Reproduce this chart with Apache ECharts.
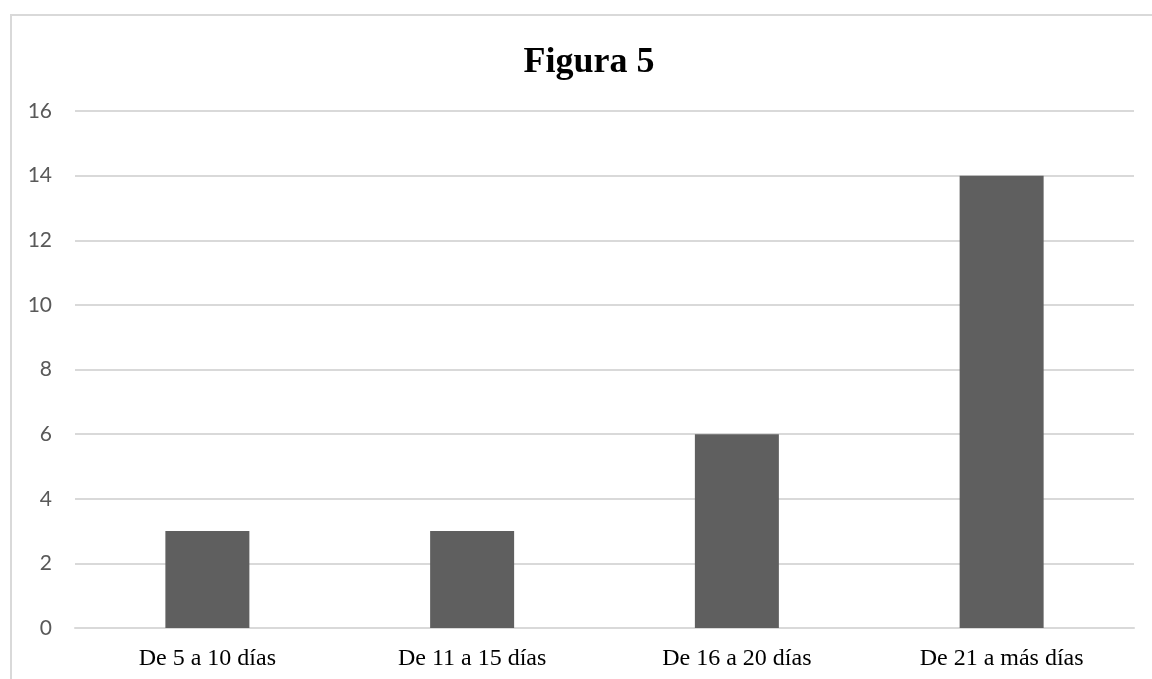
<!DOCTYPE html>
<html><head><meta charset="utf-8">
<script src="https://cdn.jsdelivr.net/npm/echarts@6/dist/echarts.min.js"></script>
<style>html,body{margin:0;padding:0;background:#fff}#c{width:1152px;height:679px}</style>
</head><body><div id="c"></div>
<script>
var categories = ["De 5 a 10 días", "De 11 a 15 días", "De 16 a 20 días", "De 21 a más días"];
var values = [3, 3, 6, 14];
var yTicks = [0, 2, 4, 6, 8, 10, 12, 14, 16];
var titleText = "Figura 5";

var chart = echarts.init(document.getElementById('c'), null, {renderer: 'canvas'});
chart.setOption({
  animation: false,
  backgroundColor: '#fff',
  graphic: [{
    type: 'rect', silent: true, z: -1,
    shape: {x: 11, y: 15, width: 1200, height: 700},
    style: {fill: 'none', stroke: '#d9d9d9', lineWidth: 2}
  }],
  title: {
    text: titleText, left: 584, textAlign: 'center', top: 40,
    textStyle: {fontFamily: 'Liberation Serif', fontWeight: 'bold', fontSize: 36, color: '#000'}
  },
  grid: {left: 75, right: 18, top: 111, bottom: 51, containLabel: false},
  xAxis: {
    type: 'category', data: categories,
    axisLine: {show: true, lineStyle: {color: '#d9d9d9', width: 2}},
    axisTick: {show: false},
    axisLabel: {fontFamily: 'Liberation Serif', fontSize: 24, color: '#000', margin: 19}
  },
  yAxis: {
    type: 'value', min: yTicks[0], max: yTicks[yTicks.length - 1], interval: 2,
    axisLine: {show: false}, axisTick: {show: false},
    splitLine: {lineStyle: {color: '#d9d9d9', width: 2}},
    axisLabel: {fontFamily: 'Lato', fontSize: 21, color: '#595959', margin: 23}
  },
  series: [{
    type: 'bar', data: values, barWidth: 84,
    itemStyle: {color: '#5f5f5f'}
  }]
});
</script></body></html>
